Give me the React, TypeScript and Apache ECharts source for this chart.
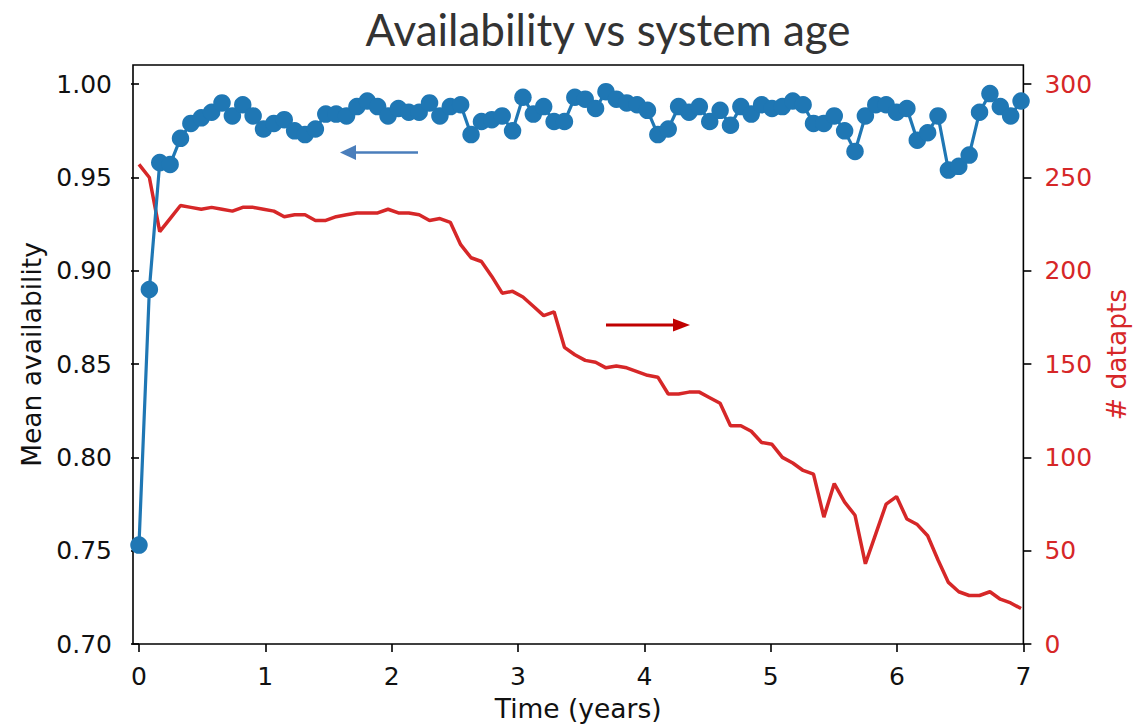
import React, { useEffect, useRef } from "react";
import * as echarts from "echarts";

const TITLE = "Availability vs system age";
const X_NAME = "Time (years)";
const LEFT_NAME = "Mean availability";
const RIGHT_NAME = "# datapts";

// one bin = 30 days
const BIN_YEARS = 30 / 365.25;

const availability = [
  0.753, 0.890, 0.958, 0.957, 0.971, 0.979, 0.982, 0.985, 0.990, 0.983,
  0.989, 0.983, 0.976, 0.979, 0.981, 0.975, 0.973, 0.976, 0.984, 0.984,
  0.983, 0.988, 0.991, 0.988, 0.983, 0.987, 0.985, 0.985, 0.990, 0.983,
  0.988, 0.989, 0.973, 0.980, 0.981, 0.983, 0.975, 0.993, 0.984, 0.988,
  0.980, 0.980, 0.993, 0.992, 0.987, 0.996, 0.992, 0.990, 0.989, 0.986,
  0.973, 0.976, 0.988, 0.985, 0.988, 0.980, 0.986, 0.978, 0.988, 0.984,
  0.989, 0.987, 0.988, 0.991, 0.989, 0.979, 0.979, 0.983, 0.975, 0.964,
  0.983, 0.989, 0.989, 0.985, 0.987, 0.970, 0.974, 0.983, 0.954, 0.956,
  0.962, 0.985, 0.995, 0.988, 0.983, 0.991,
];

const datapts = [
  257, 250, 221, 228, 235, 234, 233, 234, 233, 232,
  234, 234, 233, 232, 229, 230, 230, 227, 227, 229,
  230, 231, 231, 231, 233, 231, 231, 230, 227, 228,
  226, 214, 207, 205, 197, 188, 189, 186, 181, 176,
  178, 159, 155, 152, 151, 148, 149, 148, 146, 144,
  143, 134, 134, 135, 135, 132, 129, 117, 117, 114,
  108, 107, 100, 97, 93, 91, 68, 86, 76, 69,
  43, 59, 75, 79, 67, 64, 58, 45, 33, 28,
  26, 26, 28, 24, 22, 19,
];

const xTickValues = [0, 1, 2, 3, 4, 5, 6, 7];
const leftTickValues = [0.7, 0.75, 0.8, 0.85, 0.9, 0.95, 1.0];
const rightTickValues = [0, 50, 100, 150, 200, 250, 300];

const BLUE = "#1f77b4";
const RED = "#d62728";
const TEXT = "#111111";
const FONT = "DejaVu Sans";

export default function App() {
  const ref = useRef<HTMLDivElement>(null);

  useEffect(() => {
    const chart = echarts.init(ref.current!, null, { renderer: "svg" });
    const blueData = availability.map((v, i) => [i * BIN_YEARS, v]);
    const redData = datapts.map((v, i) => [i * BIN_YEARS, v]);

    const tickLine = { color: "#000", width: 1.6 };
    const labelStyle = { fontFamily: FONT, fontSize: 25, color: TEXT };
    const nameStyle = { fontFamily: FONT, fontSize: 26.5, color: TEXT };

    const option = {
      animation: false,
      title: {
        text: TITLE,
        left: 603,
        top: 2,
        textAlign: "center",
        textStyle: {
          fontFamily: "Lato",
          fontSize: 44,
          fontWeight: "normal",
          color: "#333333",
        },
      },
      grid: {
        left: 133,
        right: 112,
        top: 65,
        bottom: 82,
        show: true,
        borderColor: "#000",
        borderWidth: 1.6,
        backgroundColor: "transparent",
      },
      xAxis: {
        type: "value",
        min: -6 / 126.71,
        max: 7,
        name: X_NAME,
        nameLocation: "middle",
        nameGap: 51,
        nameTextStyle: nameStyle,
        axisLine: { show: false },
        axisTick: { show: true, length: 8, lineStyle: tickLine, customValues: xTickValues },
        axisLabel: { ...labelStyle, margin: 20, customValues: xTickValues },
        splitLine: { show: false },
      },
      yAxis: [
        {
          type: "value",
          position: "left",
          min: 0.7,
          max: 1.0103,
          name: LEFT_NAME,
          nameLocation: "middle",
          nameRotate: 90,
          nameGap: 87,
          nameTextStyle: nameStyle,
          axisLine: { show: false },
          axisTick: { show: true, length: 8, lineStyle: tickLine, customValues: leftTickValues },
          axisLabel: {
            ...labelStyle,
            margin: 21,
            customValues: leftTickValues,
            formatter: (v: number) => v.toFixed(2),
          },
          splitLine: { show: false },
        },
        {
          type: "value",
          position: "right",
          min: 0,
          max: 310.3,
          name: RIGHT_NAME,
          nameLocation: "middle",
          nameRotate: 90,
          nameGap: 76,
          nameTextStyle: { ...nameStyle, color: RED },
          axisLine: { show: false },
          axisTick: { show: true, length: 8, lineStyle: tickLine, customValues: rightTickValues },
          axisLabel: {
            ...labelStyle,
            color: RED,
            margin: 21,
            customValues: rightTickValues,
            formatter: (v: number) => String(Math.round(v)),
          },
          splitLine: { show: false },
        },
      ],
      series: [
        {
          name: RIGHT_NAME,
          type: "line",
          yAxisIndex: 1,
          data: redData,
          showSymbol: false,
          symbol: "none",
          lineStyle: { color: RED, width: 3.5 },
          itemStyle: { color: RED },
          z: 2,
          clip: true,
        },
        {
          name: LEFT_NAME,
          type: "line",
          yAxisIndex: 0,
          data: blueData,
          symbol: "circle",
          symbolSize: 17.5,
          showSymbol: true,
          lineStyle: { color: BLUE, width: 3.2 },
          itemStyle: { color: BLUE },
          z: 3,
          clip: true,
        },
      ],
      graphic: [
        {
          type: "line",
          shape: { x1: 418, y1: 152.5, x2: 354, y2: 152.5 },
          style: { stroke: "#4a7ebb", lineWidth: 2.5 },
          z: 10,
        },
        {
          type: "polygon",
          shape: { points: [[340, 152.5], [356, 145], [356, 160]] },
          style: { fill: "#4a7ebb" },
          z: 10,
        },
        {
          type: "line",
          shape: { x1: 606, y1: 325, x2: 675, y2: 325 },
          style: { stroke: "#c00000", lineWidth: 3 },
          z: 10,
        },
        {
          type: "polygon",
          shape: { points: [[690, 325], [673, 318.5], [673, 331.5]] },
          style: { fill: "#c00000" },
          z: 10,
        },
      ],
    };

    chart.setOption(option as any);
    return () => chart.dispose();
  }, []);

  return (
    <div
      ref={ref}
      style={{ position: "absolute", left: 0, top: 0, width: 1138, height: 727 }}
    />
  );
}
